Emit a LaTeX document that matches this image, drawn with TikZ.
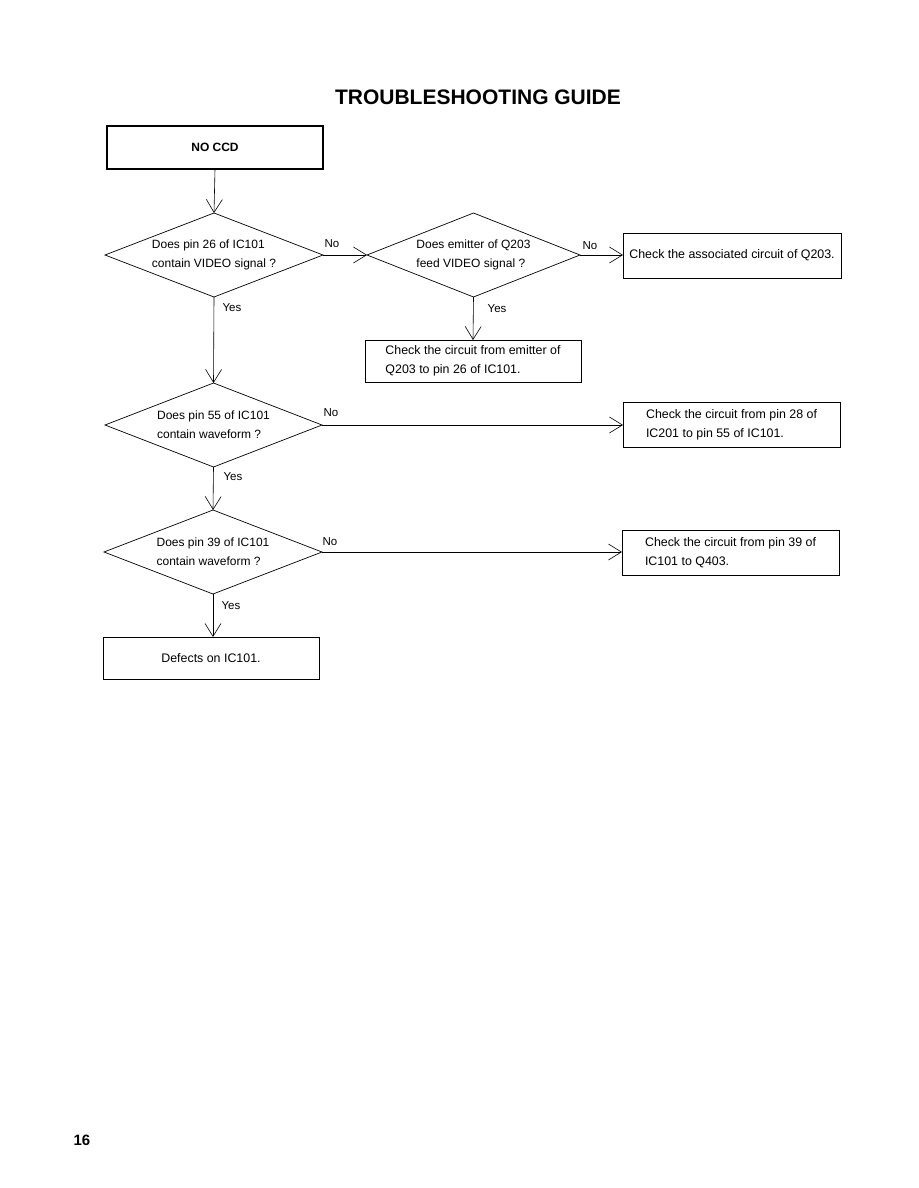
\documentclass[tikz,border=0pt]{standalone}
\usepackage{fontspec}
\setmainfont{Liberation Sans}
\usetikzlibrary{shapes.geometric,arrows.meta}
\begin{document}
\begin{tikzpicture}[x=1pt,y=-1pt,
  txt/.style={font=\fontsize{12.4}{19}\selectfont},
  dtxt/.style={font=\fontsize{12}{19}\selectfont},
  box/.style={draw,line width=0.7pt,rectangle,inner sep=0pt,outer sep=0pt,align=left,txt},
  dia/.style={draw,line width=0.7pt,diamond,minimum width=218pt,minimum height=84pt,inner sep=0pt,outer sep=0pt,shape aspect=2.6,align=left,dtxt},
  lbl/.style={font=\fontsize{11.5}{13}\selectfont,inner sep=0pt},
  arr/.style={line width=0.6pt,-{Straight Barb[length=13pt,width=16pt,line width=0.6pt]}}]
\useasboundingbox (0,0) rectangle (918,1188);

\node[font=\fontsize{21}{25}\selectfont\bfseries] (title) at (478,97) {TROUBLESHOOTING GUIDE};

\node[box,line width=1.5pt,minimum width=216pt,minimum height=43pt,font=\fontsize{12}{14}\selectfont\bfseries] (nocc) at (215,147.5) {NO CCD};

\node[dia] (d1) at (214,255) {Does pin 26 of IC101\\contain VIDEO signal ?};
\node[dia,minimum width=213pt] (d2) at (473.5,255) {Does emitter of Q203\\feed VIDEO signal ?};
\node[box,minimum width=218pt,minimum height=45pt] (b3) at (732,255.5) {Check the associated circuit of Q203.};
\node[box,minimum width=216pt,minimum height=42pt] (b4) at (473,361) {Check the circuit from emitter of\\Q203 to pin 26 of IC101.};

\node[dia,minimum width=217pt] (d3) at (213.5,425) {Does pin 55 of IC101\\contain waveform ?};
\node[box,minimum width=217pt,minimum height=45pt] (b5) at (731.5,424.5) {Check the circuit from pin 28 of\\IC201 to pin 55 of IC101.};

\node[dia] (d4) at (213,552) {Does pin 39 of IC101\\contain waveform ?};
\node[box,minimum width=217pt,minimum height=45pt] (b6) at (730.5,552.5) {Check the circuit from pin 39 of\\IC101 to Q403.};

\node[box,minimum width=216pt,minimum height=42pt] (b7) at (211,658) {Defects on IC101.};

\node[lbl] (no1) at (332,244) {No};
\node[lbl] (no2) at (590,246) {No};
\node[lbl] (no3) at (331,413) {No};
\node[lbl] (no4) at (330,542) {No};
\node[lbl] (yes1) at (232,308) {Yes};
\node[lbl] (yes2) at (497,309) {Yes};
\node[lbl] (yes3) at (233,477) {Yes};
\node[lbl] (yes4) at (231,606) {Yes};

\draw[arr] (nocc.south) -- (d1.north);
\draw[arr] (d1.east) -- (d2.west);
\draw[arr] (d2.east) -- (d2.east -| b3.west);
\draw[arr] (d2.south) -- (b4.north);
\draw[arr] (d1.south) -- (d3.north);
\draw[arr] (d3.east) -- (d3.east -| b5.west);
\draw[arr] (d3.south) -- (d4.north);
\draw[arr] (d4.east) -- (d4.east -| b6.west);
\draw[arr] (d4.south) -- (d4.south |- b7.north);

\node[font=\fontsize{15}{18}\selectfont\bfseries] (pg) at (82,1140) {16};
\end{tikzpicture}
\end{document}
